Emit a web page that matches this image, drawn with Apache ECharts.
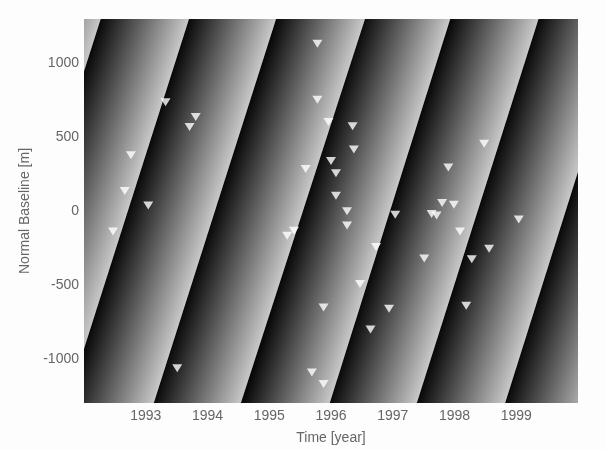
<!DOCTYPE html>
<html><head><meta charset="utf-8">
<script src="https://cdn.jsdelivr.net/npm/echarts@6/dist/echarts.min.js"></script>
<style>html,body{margin:0;padding:0;background:#fdfdfd}#c{width:606px;height:450px}</style>
</head><body><div id="c"></div>
<script>
const xMin = 1992, xMax = 2000, yMin = -1300, yMax = 1300;
const xTicks = [1993, 1994, 1995, 1996, 1997, 1998, 1999];
const yTicks = [-1000, -500, 0, 500, 1000];
// fringe discontinuities: year where each crosses the top (1300 m) and bottom (-1300 m) of the plot
const fringeTop    = [1990.84, 1992.27, 1993.70, 1995.11, 1996.55, 1997.93, 1999.36, 2000.78, 2002.20];
const fringeBottom = [1988.86, 1990.29, 1991.72, 1993.13, 1994.54, 1995.98, 1997.39, 1998.82, 2000.23];
// acquisitions
const acqYears = [1992.47, 1992.66, 1992.76, 1993.04, 1993.32, 1993.51, 1993.71, 1993.81,
  1995.29, 1995.40, 1995.59, 1995.69, 1995.78, 1995.78, 1995.88, 1995.88, 1995.96, 1996.00,
  1996.08, 1996.08, 1996.26, 1996.26, 1996.35, 1996.37, 1996.47, 1996.64, 1996.73, 1996.94,
  1997.04, 1997.51, 1997.63, 1997.71, 1997.80, 1997.90, 1997.99, 1998.09, 1998.19, 1998.28,
  1998.48, 1998.56, 1999.04];
const baselines = [-139, 136, 378, 38, 736, -1065, 568, 636,
  -168, -134, 284, -1094, 1132, 754, -653, -1172, 602, 338,
  255, 103, -2, -99, 573, 416, -495, -803, -244, -662,
  -25, -322, -20, -31, 54, 295, 42, -139, -642, -327,
  456, -255, -58];

const bands = [];
for (let i = 0; i < fringeTop.length - 1; i++) {
  bands.push([fringeTop[i], fringeBottom[i], fringeTop[i + 1], fringeBottom[i + 1]]);
}
const points = acqYears.map((t, i) => [t, baselines[i]]);

const chart = echarts.init(document.getElementById('c'));
const labelStyle = { color: '#666', fontSize: 14, fontFamily: 'Liberation Sans, Arial, sans-serif' };
const plain = v => String(v);
chart.setOption({
  backgroundColor: '#fdfdfd',
  animation: false,
  grid: { left: 84, top: 19, right: 28, bottom: 43 },
  xAxis: {
    type: 'value', min: xMin, max: xMax,
    axisLine: { show: false }, axisTick: { show: false }, splitLine: { show: false },
    axisLabel: Object.assign({ customValues: xTicks, margin: 6, formatter: plain }, labelStyle),
    name: 'Time [year]', nameLocation: 'middle', nameGap: 28,
    nameTextStyle: Object.assign({}, labelStyle)
  },
  yAxis: {
    type: 'value', min: yMin, max: yMax,
    axisLine: { show: false }, axisTick: { show: false }, splitLine: { show: false },
    axisLabel: Object.assign({ customValues: yTicks, margin: 5, formatter: plain }, labelStyle),
    name: 'Normal Baseline [m]', nameLocation: 'middle', nameGap: 48,
    nameTextStyle: Object.assign({}, labelStyle)
  },
  series: [
    {
      type: 'custom', clip: true, silent: true, z: 1,
      data: bands,
      encode: { x: [0, 1, 2, 3] },
      renderItem(params, api) {
        const t0 = api.value(0), b0 = api.value(1), t1 = api.value(2), b1 = api.value(3);
        const A = api.coord([t0, yMax]), B = api.coord([t1, yMax]);
        const C = api.coord([b1, yMin]), D = api.coord([b0, yMin]);
        const p0 = [(A[0] + D[0]) / 2, (A[1] + D[1]) / 2];
        const q = [(B[0] + C[0]) / 2, (B[1] + C[1]) / 2];
        const d = [C[0] - B[0], C[1] - B[1]];
        const L = Math.hypot(d[0], d[1]);
        const u = [d[0] / L, d[1] / L];
        const s = (p0[0] - q[0]) * u[0] + (p0[1] - q[1]) * u[1];
        const f = [q[0] + s * u[0], q[1] + s * u[1]];
        return {
          type: 'polygon',
          shape: { points: [A, B, C, D] },
          style: {
            fill: {
              type: 'linear', x: p0[0], y: p0[1], x2: f[0], y2: f[1], global: true,
              colorStops: [{ offset: 0, color: '#080808' }, { offset: 1, color: '#c8c8c8' }]
            },
            stroke: null
          }
        };
      }
    },
    {
      type: 'scatter', z: 3,
      data: points,
      symbol: 'path://M0,0L10,0L5,8Z',
      symbolSize: [10, 8],
      itemStyle: { color: '#ffffff' }
    }
  ]
});
</script>
</body></html>
